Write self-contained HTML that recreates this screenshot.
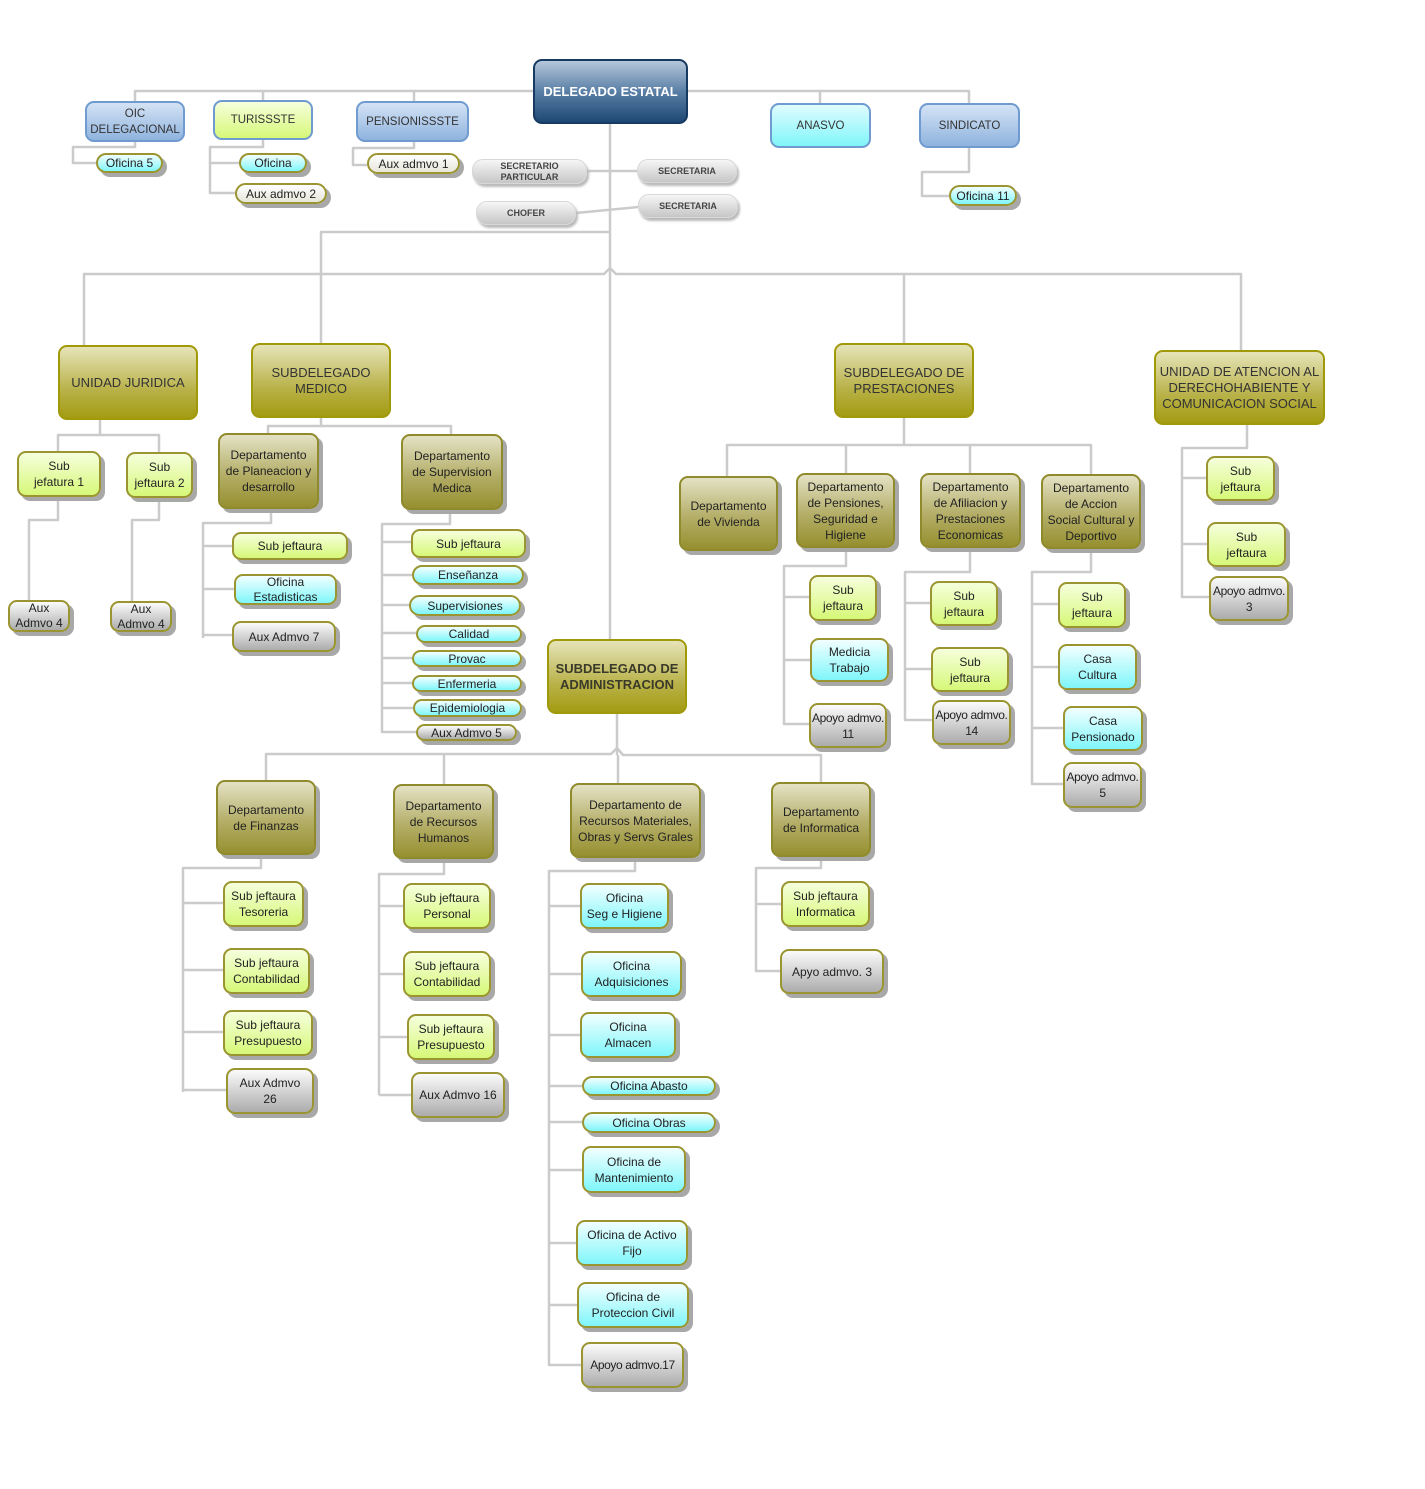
<!DOCTYPE html>
<html><head><meta charset="utf-8"><style>
html,body{margin:0;padding:0;background:#fff;}
body{width:1425px;height:1489px;position:relative;overflow:hidden;font-family:"Liberation Sans",sans-serif;}
svg{position:absolute;left:0;top:0;}
.n{position:absolute;box-sizing:border-box;display:flex;align-items:center;justify-content:center;text-align:center;font-size:12px;line-height:16px;color:#222;border:2px solid #9a9530;border-radius:9px;box-shadow:4px 4px 0 #a8a8a8;padding:0;}
.bl{background:linear-gradient(#d4e3f5,#8fb3de);border-color:#6f9bd0;box-shadow:none;font-size:11.5px;color:#333;}
.dk{background:linear-gradient(#b5c7da,#5a7fa6 50%,#1e4874);border-color:#163a62;color:#fff;font-weight:bold;font-size:13px;box-shadow:none;}
.ol{background:linear-gradient(#e6e4b8,#b9b24a 60%,#a39c12);border-color:#a09a0a;box-shadow:none;font-size:13px;color:#333;}
.dp{background:linear-gradient(#e4e2c4,#b4ae68 55%,#969030);border-color:#8f8a2c;}
.lm{background:linear-gradient(#f6ffdc,#d6f878);}
.cy{background:linear-gradient(#f2ffff,#7ff6fa);}
.gr{background:linear-gradient(#fbfbfb,#acacac);}
.cr{background:linear-gradient(#ffffff,#e6e6da);}
.pl{background:linear-gradient(#f6f6f6,#c6c6c6);border:1px solid #d8d8d8;border-radius:11px;font-size:9px;font-weight:bold;color:#444;line-height:11px;box-shadow:2px 3px 2px #bbb;}
.sm{border-radius:11px;}
.at{background:linear-gradient(#e0fcff,#80f6fa);border-color:#6f9bd0;box-shadow:none;font-size:11.5px;color:#333;}
.nw{white-space:nowrap;letter-spacing:-0.4px;}
</style></head><body>
<svg width="1425" height="1489" fill="none" stroke="#cbcbcb" stroke-width="2.5" stroke-linejoin="round">
<polyline points="135,101 135,91 969,91 969,103"/>
<polyline points="263,100 263,91"/><polyline points="414,101 414,91"/><polyline points="820,103 820,91"/>
<polyline points="135,142 135,147 73,147 73,163 96,163"/>
<polyline points="263,140 263,147 210,147 210,193 235,193"/><polyline points="210,163 239,163"/>
<polyline points="414,142 414,148 353,148 353,165 367,165"/>
<polyline points="969,148 969,172 922,172 922,196 949,196"/>
<polyline points="610,124 610,639"/>
<polyline points="587,171 637,171"/><polyline points="576,213 638,207"/>
<polyline points="610,232 321,232 321,343"/>
<polyline points="610,268 604,274 84,274 84,345"/>
<polyline points="610,268 616,274 1241,274 1241,350"/>
<polyline points="904,274 904,343"/>
<polyline points="100,420 100,435 58,435 58,451"/><polyline points="100,435 159,435 159,452"/>
<polyline points="58,497 58,520 29,520 29,600"/><polyline points="159,498 159,520 132,520 132,601"/>
<polyline points="321,418 321,426 268,426 268,433"/><polyline points="321,426 451,426 451,434"/>
<polyline points="271,509 271,523 203,523 203,638"/>
<polyline points="203,546 232,546"/><polyline points="203,589 234,589"/><polyline points="203,635 232,635"/>
<polyline points="450,510 450,524 382,524 382,733"/>
<polyline points="382,542 411,542"/><polyline points="382,575 412,575"/><polyline points="382,605 409,605"/><polyline points="382,633 416,633"/><polyline points="382,658 412,658"/><polyline points="382,683 412,683"/><polyline points="382,708 413,708"/><polyline points="382,732 416,732"/>
<polyline points="617,714 617,755"/>
<polyline points="617,748 611,754 266,754 266,780"/>
<polyline points="617,748 623,755 821,755 821,782"/>
<polyline points="444,754 444,784"/><polyline points="618,755 618,783"/>
<polyline points="261,855 261,868 183,868 183,1092"/>
<polyline points="183,903 223,903"/><polyline points="183,970 223,970"/><polyline points="183,1032 223,1032"/><polyline points="183,1090 226,1090"/>
<polyline points="444,859 444,874 379,874 379,1095"/>
<polyline points="379,906 403,906"/><polyline points="379,974 403,974"/><polyline points="379,1037 407,1037"/><polyline points="379,1095 411,1095"/>
<polyline points="635,858 635,871 549,871 549,1365 581,1365"/>
<polyline points="549,906 580,906"/><polyline points="549,974 581,974"/><polyline points="549,1035 580,1035"/><polyline points="549,1086 582,1086"/><polyline points="549,1122 582,1122"/><polyline points="549,1170 582,1170"/><polyline points="549,1243 576,1243"/><polyline points="549,1305 577,1305"/>
<polyline points="821,857 821,868 756,868 756,971 780,971"/><polyline points="756,904 781,904"/>
<polyline points="904,418 904,445 727,445 727,476"/><polyline points="904,445 1091,445 1091,474"/>
<polyline points="846,445 846,473"/><polyline points="970,445 970,473"/>
<polyline points="846,548 846,566 784,566 784,724 809,724"/><polyline points="784,597 809,597"/><polyline points="784,660 810,660"/>
<polyline points="970,548 970,572 905,572 905,720 932,720"/><polyline points="905,603 930,603"/><polyline points="905,669 931,669"/>
<polyline points="1091,549 1091,572 1032,572 1032,784 1063,784"/><polyline points="1032,604 1058,604"/><polyline points="1032,667 1058,667"/><polyline points="1032,728 1063,728"/>
<polyline points="1247,425 1247,448 1182,448 1182,597 1209,597"/><polyline points="1182,478 1206,478"/><polyline points="1182,544 1207,544"/>
</svg>

<div class="n dk" style="left:533px;top:59px;width:155px;height:65px">DELEGADO ESTATAL</div>
<div class="n bl" style="left:85px;top:101px;width:100px;height:41px">OIC<br>DELEGACIONAL</div>
<div class="n lm" style="left:213px;top:100px;width:100px;height:40px;box-shadow:none;border-color:#6f9bd0;font-size:11.5px;color:#333">TURISSSTE</div>
<div class="n bl" style="left:356px;top:101px;width:113px;height:41px">PENSIONISSSTE</div>
<div class="n at" style="left:770px;top:103px;width:101px;height:45px">ANASVO</div>
<div class="n bl" style="left:919px;top:103px;width:101px;height:45px">SINDICATO</div>
<div class="n cy sm" style="left:96px;top:153px;width:67px;height:20px">Oficina 5</div>
<div class="n cy sm" style="left:239px;top:153px;width:68px;height:20px">Oficina</div>
<div class="n cr sm" style="left:235px;top:183px;width:92px;height:21px">Aux admvo 2</div>
<div class="n cr sm" style="left:367px;top:153px;width:93px;height:21px">Aux admvo 1</div>
<div class="n cy sm" style="left:949px;top:185px;width:68px;height:21px">Oficina 11</div>
<div class="n pl" style="left:472px;top:159px;width:115px;height:25px">SECRETARIO<br>PARTICULAR</div>
<div class="n pl" style="left:637px;top:159px;width:100px;height:24px">SECRETARIA</div>
<div class="n pl" style="left:476px;top:201px;width:100px;height:24px">CHOFER</div>
<div class="n pl" style="left:638px;top:194px;width:100px;height:24px">SECRETARIA</div>

<div class="n ol" style="left:58px;top:345px;width:140px;height:75px">UNIDAD JURIDICA</div>
<div class="n ol" style="left:251px;top:343px;width:140px;height:75px">SUBDELEGADO<br>MEDICO</div>
<div class="n ol" style="left:834px;top:343px;width:140px;height:75px">SUBDELEGADO DE<br>PRESTACIONES</div>
<div class="n ol" style="left:1154px;top:350px;width:171px;height:75px">UNIDAD DE ATENCION AL<br>DERECHOHABIENTE Y<br>COMUNICACION SOCIAL</div>
<div class="n ol" style="left:547px;top:639px;width:140px;height:75px;font-weight:bold;color:#3a3a2a">SUBDELEGADO DE<br>ADMINISTRACION</div>

<div class="n lm" style="left:17px;top:451px;width:84px;height:46px">Sub<br>jefatura 1</div>
<div class="n lm" style="left:126px;top:452px;width:67px;height:46px">Sub<br>jeftaura 2</div>
<div class="n gr" style="left:8px;top:600px;width:62px;height:32px;line-height:15px">Aux<br>Admvo 4</div>
<div class="n gr" style="left:110px;top:601px;width:62px;height:31px;line-height:15px">Aux<br>Admvo 4</div>

<div class="n dp" style="left:218px;top:433px;width:101px;height:76px">Departamento<br>de Planeacion y<br>desarrollo</div>
<div class="n dp" style="left:401px;top:434px;width:102px;height:76px">Departamento<br>de Supervision<br>Medica</div>
<div class="n lm" style="left:232px;top:532px;width:116px;height:28px">Sub jeftaura</div>
<div class="n cy" style="left:234px;top:574px;width:103px;height:31px;line-height:15px">Oficina<br>Estadisticas</div>
<div class="n gr" style="left:232px;top:621px;width:104px;height:31px">Aux Admvo 7</div>
<div class="n lm" style="left:411px;top:529px;width:115px;height:29px">Sub jeftaura</div>
<div class="n cy sm" style="left:412px;top:565px;width:112px;height:20px">Enseñanza</div>
<div class="n cy sm" style="left:409px;top:595px;width:112px;height:21px">Supervisiones</div>
<div class="n cy sm" style="left:416px;top:625px;width:106px;height:18px">Calidad</div>
<div class="n cy sm" style="left:412px;top:650px;width:110px;height:17px">Provac</div>
<div class="n cy sm" style="left:412px;top:675px;width:110px;height:17px">Enfermeria</div>
<div class="n cy sm" style="left:413px;top:699px;width:109px;height:18px">Epidemiologia</div>
<div class="n gr sm" style="left:416px;top:724px;width:101px;height:17px">Aux Admvo 5</div>

<div class="n dp" style="left:679px;top:476px;width:99px;height:75px">Departamento<br>de Vivienda</div>
<div class="n dp" style="left:796px;top:473px;width:99px;height:75px">Departamento<br>de Pensiones,<br>Seguridad e<br>Higiene</div>
<div class="n dp" style="left:920px;top:473px;width:101px;height:75px">Departamento<br>de Afiliacion y<br>Prestaciones<br>Economicas</div>
<div class="n dp" style="left:1041px;top:474px;width:100px;height:75px">Departamento<br>de Accion<br>Social Cultural y<br>Deportivo</div>
<div class="n lm" style="left:809px;top:575px;width:68px;height:46px">Sub<br>jeftaura</div>
<div class="n cy" style="left:810px;top:638px;width:79px;height:44px">Medicia<br>Trabajo</div>
<div class="n gr nw" style="left:809px;top:703px;width:78px;height:45px">Apoyo admvo.<br>11</div>
<div class="n lm" style="left:930px;top:581px;width:68px;height:45px">Sub<br>jeftaura</div>
<div class="n lm" style="left:931px;top:647px;width:78px;height:45px">Sub<br>jeftaura</div>
<div class="n gr nw" style="left:932px;top:700px;width:79px;height:45px">Apoyo admvo.<br>14</div>
<div class="n lm" style="left:1058px;top:582px;width:68px;height:46px">Sub<br>jeftaura</div>
<div class="n cy" style="left:1058px;top:644px;width:79px;height:46px">Casa<br>Cultura</div>
<div class="n cy" style="left:1063px;top:706px;width:80px;height:45px">Casa<br>Pensionado</div>
<div class="n gr nw" style="left:1063px;top:762px;width:79px;height:46px">Apoyo admvo.<br>5</div>
<div class="n lm" style="left:1206px;top:456px;width:69px;height:45px">Sub<br>jeftaura</div>
<div class="n lm" style="left:1207px;top:522px;width:79px;height:45px">Sub<br>jeftaura</div>
<div class="n gr nw" style="left:1209px;top:576px;width:80px;height:45px">Apoyo admvo.<br>3</div>

<div class="n dp" style="left:216px;top:780px;width:100px;height:75px">Departamento<br>de Finanzas</div>
<div class="n dp" style="left:393px;top:784px;width:101px;height:75px">Departamento<br>de Recursos<br>Humanos</div>
<div class="n dp" style="left:570px;top:783px;width:131px;height:75px">Departamento de<br>Recursos Materiales,<br>Obras y Servs Grales</div>
<div class="n dp" style="left:771px;top:782px;width:100px;height:75px">Departamento<br>de Informatica</div>

<div class="n lm" style="left:223px;top:881px;width:81px;height:46px">Sub jeftaura<br>Tesoreria</div>
<div class="n lm" style="left:223px;top:948px;width:87px;height:46px">Sub jeftaura<br>Contabilidad</div>
<div class="n lm" style="left:223px;top:1010px;width:90px;height:46px">Sub jeftaura<br>Presupuesto</div>
<div class="n gr" style="left:226px;top:1068px;width:88px;height:46px">Aux Admvo<br>26</div>
<div class="n lm" style="left:403px;top:883px;width:88px;height:46px">Sub jeftaura<br>Personal</div>
<div class="n lm" style="left:403px;top:951px;width:88px;height:46px">Sub jeftaura<br>Contabilidad</div>
<div class="n lm" style="left:407px;top:1014px;width:88px;height:46px">Sub jeftaura<br>Presupuesto</div>
<div class="n gr" style="left:411px;top:1072px;width:94px;height:46px">Aux Admvo 16</div>

<div class="n cy" style="left:580px;top:883px;width:89px;height:46px">Oficina<br>Seg e Higiene</div>
<div class="n cy" style="left:581px;top:951px;width:101px;height:46px">Oficina<br>Adquisiciones</div>
<div class="n cy" style="left:580px;top:1012px;width:96px;height:46px">Oficina<br>Almacen</div>
<div class="n cy sm" style="left:582px;top:1076px;width:134px;height:20px">Oficina Abasto</div>
<div class="n cy sm" style="left:582px;top:1112px;width:134px;height:21px">Oficina Obras</div>
<div class="n cy" style="left:582px;top:1146px;width:104px;height:47px">Oficina de<br>Mantenimiento</div>
<div class="n cy" style="left:576px;top:1220px;width:112px;height:46px">Oficina de Activo<br>Fijo</div>
<div class="n cy" style="left:577px;top:1282px;width:112px;height:46px">Oficina de<br>Proteccion Civil</div>
<div class="n gr nw" style="left:581px;top:1342px;width:103px;height:46px">Apoyo admvo.17</div>

<div class="n lm" style="left:781px;top:881px;width:89px;height:46px">Sub jeftaura<br>Informatica</div>
<div class="n gr" style="left:780px;top:949px;width:104px;height:45px">Apyo admvo. 3</div>
</body></html>
